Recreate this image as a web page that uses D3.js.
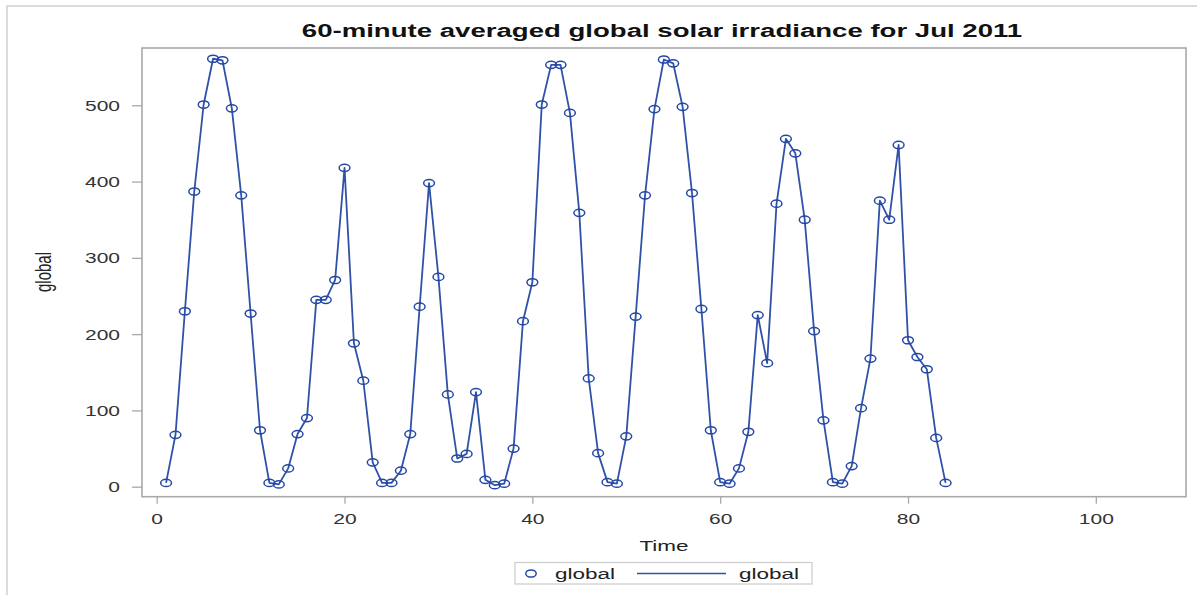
<!DOCTYPE html>
<html>
<head>
<meta charset="utf-8">
<script src="https://cdn.jsdelivr.net/npm/d3@7"></script>
<style>
  html, body { margin: 0; padding: 0; background: #fff; }
  svg { display: block; }
  text { font-family: "Liberation Sans", Arial, sans-serif; }
</style>
</head>
<body>
<svg id="chart" width="1197" height="595"></svg>
<script>
// Hourly time index (hours into the period)
const time = [
  1, 2, 3, 4, 5, 6, 7, 8, 9, 10, 11, 12, 13, 14, 15, 16, 17, 18, 19, 20,
  21, 22, 23, 24, 25, 26, 27, 28, 29, 30, 31, 32, 33, 34, 35, 36, 37, 38, 39, 40,
  41, 42, 43, 44, 45, 46, 47, 48, 49, 50, 51, 52, 53, 54, 55, 56, 57, 58, 59, 60,
  61, 62, 63, 64, 65, 66, 67, 68, 69, 70, 71, 72, 73, 74, 75, 76, 77, 78, 79, 80,
  81, 82, 83, 84
];

// 60-minute averaged global solar irradiance
const global = [
  5, 68, 230, 387, 501, 561, 559, 496, 382, 227, 74, 5, 3, 24, 69, 90, 245, 245, 271, 418,
  188, 139, 32, 5, 5, 21, 69, 236, 398, 275, 121, 37, 43, 124, 9, 2, 4, 50, 217, 268,
  501, 553, 553, 490, 359, 142, 44, 6, 4, 66, 223, 382, 495, 560, 555, 498, 385, 233, 74, 6,
  4, 24, 72, 225, 162, 371, 456, 437, 350, 204, 87, 6, 4, 27, 103, 168, 375, 350, 448, 192,
  170, 154, 64, 5
];

const xTicks = [0, 20, 40, 60, 80, 100];
const yTicks = [0, 100, 200, 300, 400, 500];

const titleText = "60-minute averaged global solar irradiance for Jul 2011";
const xLabel = "Time";
const yLabel = "global";
const legendLabels = ["global", "global"];

// Layout
const SX = 1.5;               // horizontal text stretch
const blue = "#2548a6";
const lineBlue = "#2f52a8";
const frame = { left: 142, top: 48, right: 1186, bottom: 496.7 };

const svg = d3.select("#chart");

// outer graph border
svg.append("rect")
  .attr("x", 7).attr("y", 6)
  .attr("width", 1260).attr("height", 640)
  .attr("fill", "none")
  .attr("stroke", "#cfcfcf")
  .attr("stroke-width", 1.5);

const x = d3.scaleLinear().domain([-1.565, 109.6]).range([frame.left, frame.right]);
const y = d3.scaleLinear().domain([-13.1, 575.1]).range([frame.bottom, frame.top]);

function stretchedText(parent, px, py, str, anchor) {
  return parent.append("text")
    .attr("transform", `translate(${px},${py}) scale(${SX},1)`)
    .attr("text-anchor", anchor || "start")
    .text(str);
}

// Title
stretchedText(svg, (frame.left + frame.right) / 2 - 2, 36.5, titleText, "middle")
  .attr("font-size", 18.4)
  .attr("font-weight", "bold")
  .attr("fill", "#111");

// Axes
const yAxis = svg.append("g")
  .attr("transform", `translate(${frame.left},0)`)
  .call(d3.axisLeft(y).tickValues(yTicks).tickSizeInner(10).tickSizeOuter(0));
const xAxis = svg.append("g")
  .attr("transform", `translate(0,${frame.bottom})`)
  .call(d3.axisBottom(x).tickValues(xTicks).tickSizeInner(7).tickSizeOuter(0));

[yAxis, xAxis].forEach(g => {
  g.select(".domain").remove();
  g.selectAll(".tick line").attr("stroke", "#a9a9a9").attr("stroke-width", 1.3);
  g.selectAll(".tick text")
    .attr("font-size", 14)
    .attr("fill", "#333")
    .attr("font-family", "'Liberation Sans', Arial, sans-serif");
});
yAxis.selectAll(".tick text")
  .attr("x", -22 / SX)
  .attr("dy", "0.36em")
  .attr("transform", `scale(${SX},1)`);
xAxis.selectAll(".tick text")
  .attr("y", 27)
  .attr("dy", 0)
  .attr("transform", `scale(${SX},1)`);

// Plot wall border
svg.append("rect")
  .attr("x", frame.left).attr("y", frame.top)
  .attr("width", frame.right - frame.left)
  .attr("height", frame.bottom - frame.top)
  .attr("fill", "none")
  .attr("stroke", "#a9a9a9")
  .attr("stroke-width", 1.6);

// Axis labels
stretchedText(svg, (frame.left + frame.right) / 2, 551, xLabel, "middle")
  .attr("font-size", 15)
  .attr("fill", "#222");

svg.append("text")
  .attr("transform", `translate(51,272) scale(${SX},1) rotate(-90)`)
  .attr("text-anchor", "middle")
  .attr("font-size", 15)
  .attr("fill", "#222")
  .text(yLabel);

// Series
const data = time.map((t, i) => ({ t, v: global[i] }));

svg.append("path")
  .datum(data)
  .attr("fill", "none")
  .attr("stroke", lineBlue)
  .attr("stroke-width", 1.8)
  .attr("stroke-linejoin", "round")
  .attr("d", d3.line().x(d => x(d.t)).y(d => y(d.v)));

svg.append("g")
  .selectAll("ellipse")
  .data(data)
  .join("ellipse")
  .attr("cx", d => x(d.t))
  .attr("cy", d => y(d.v))
  .attr("rx", 5.4)
  .attr("ry", 3.6)
  .attr("fill", "none")
  .attr("stroke", blue)
  .attr("stroke-width", 1.5);

// Legend
const legend = svg.append("g");
legend.append("rect")
  .attr("x", 515).attr("y", 562.5)
  .attr("width", 297).attr("height", 21.5)
  .attr("fill", "#fff")
  .attr("stroke", "#cfcfcf")
  .attr("stroke-width", 1.3);
legend.append("ellipse")
  .attr("cx", 531).attr("cy", 573.5)
  .attr("rx", 5.2).attr("ry", 3.6)
  .attr("fill", "none")
  .attr("stroke", blue)
  .attr("stroke-width", 1.5);
stretchedText(legend, 555, 579, legendLabels[0], "start")
  .attr("font-size", 15).attr("fill", "#222");
legend.append("line")
  .attr("x1", 637).attr("x2", 726)
  .attr("y1", 573.5).attr("y2", 573.5)
  .attr("stroke", lineBlue)
  .attr("stroke-width", 1.5);
stretchedText(legend, 739, 579, legendLabels[1], "start")
  .attr("font-size", 15).attr("fill", "#222");
</script>
</body>
</html>
